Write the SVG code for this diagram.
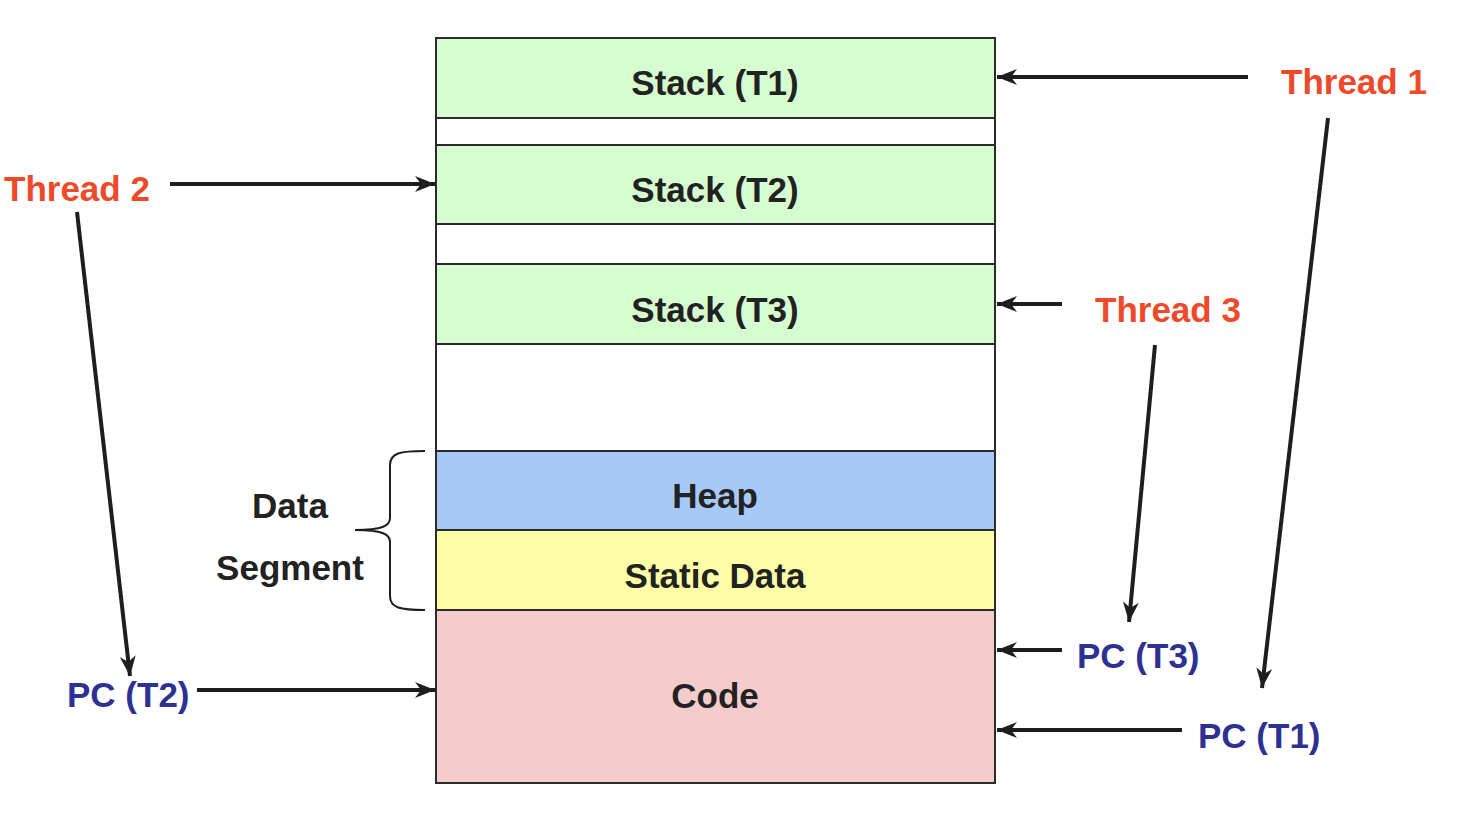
<svg xmlns="http://www.w3.org/2000/svg" width="1458" height="816" viewBox="0 0 1458 816">
<style>
.box{stroke:#2b2b2b;stroke-width:2}
.lbl{font-family:"Liberation Sans",Arial,sans-serif;font-weight:bold;font-size:35px;fill:#222;text-anchor:middle}
.thr{font-family:"Liberation Sans",Arial,sans-serif;font-weight:bold;font-size:35px;fill:#ee4a2a}
.pc{font-family:"Liberation Sans",Arial,sans-serif;font-weight:bold;font-size:35px;fill:#2e3192}
.arr{stroke:#1e1e1e;stroke-width:4;fill:none;marker-end:url(#ah)}
</style>
<defs>
<marker id="ah" markerUnits="userSpaceOnUse" markerWidth="22" markerHeight="16" refX="20" refY="8" orient="auto">
<path d="M0,0 L20,8 L0,16 L6,8 z" fill="#1e1e1e"/>
</marker>
</defs>
<rect width="1458" height="816" fill="#fff"/>
<g id="memory">
<g id="stack-t1"><rect class="box" x="436" y="38" width="559" height="80" fill="#d6fdd0"/><text class="lbl" x="715" y="95">Stack (T1)</text></g>
<rect class="box" x="436" y="118" width="559" height="27" fill="#fff"/>
<g id="stack-t2"><rect class="box" x="436" y="145" width="559" height="79" fill="#d6fdd0"/><text class="lbl" x="715" y="202">Stack (T2)</text></g>
<rect class="box" x="436" y="224" width="559" height="40" fill="#fff"/>
<g id="stack-t3"><rect class="box" x="436" y="264" width="559" height="80" fill="#d6fdd0"/><text class="lbl" x="715" y="322">Stack (T3)</text></g>
<rect class="box" x="436" y="344" width="559" height="107" fill="#fff"/>
<g id="heap"><rect class="box" x="436" y="451" width="559" height="79" fill="#a6c9f7"/><text class="lbl" x="715" y="508">Heap</text></g>
<g id="static"><rect class="box" x="436" y="530" width="559" height="80" fill="#fefea6"/><text class="lbl" x="715" y="588">Static Data</text></g>
<g id="code"><rect class="box" x="436" y="610" width="559" height="173" fill="#f5cccc"/><text class="lbl" x="715" y="708">Code</text></g>
</g>
<g id="data-segment">
<path d="M425,451 C400,451 390,453 390,465 L390,518 C390,526 382,530 355,530 C382,530 390,534 390,542 L390,596 C390,608 400,610 425,610" fill="none" stroke="#1e1e1e" stroke-width="2"/>
<text class="lbl" x="290" y="518">Data</text>
<text class="lbl" x="290" y="580">Segment</text>
</g>
<g id="thread1"><text class="thr" x="1281" y="94">Thread 1</text></g>
<g id="thread2"><text class="thr" x="4" y="201">Thread 2</text></g>
<g id="thread3"><text class="thr" x="1095" y="322">Thread 3</text></g>
<g id="pc-t2"><text class="pc" x="67" y="707">PC (T2)</text></g>
<g id="pc-t3"><text class="pc" x="1077" y="668">PC (T3)</text></g>
<g id="pc-t1"><text class="pc" x="1198" y="748">PC (T1)</text></g>
<g id="connectors">
<line class="arr" x1="1248" y1="77" x2="997" y2="77"/>
<line class="arr" x1="170" y1="184" x2="435" y2="184"/>
<line class="arr" x1="1062" y1="304" x2="997" y2="304"/>
<line class="arr" x1="1062" y1="650" x2="997" y2="650"/>
<line class="arr" x1="1182" y1="730" x2="997" y2="730"/>
<line class="arr" x1="197" y1="690" x2="435" y2="690"/>
<line class="arr" x1="77" y1="212" x2="130" y2="676"/>
<line class="arr" x1="1155" y1="345" x2="1129" y2="622"/>
<line class="arr" x1="1328" y1="118" x2="1262" y2="688"/>
</g>
</svg>
